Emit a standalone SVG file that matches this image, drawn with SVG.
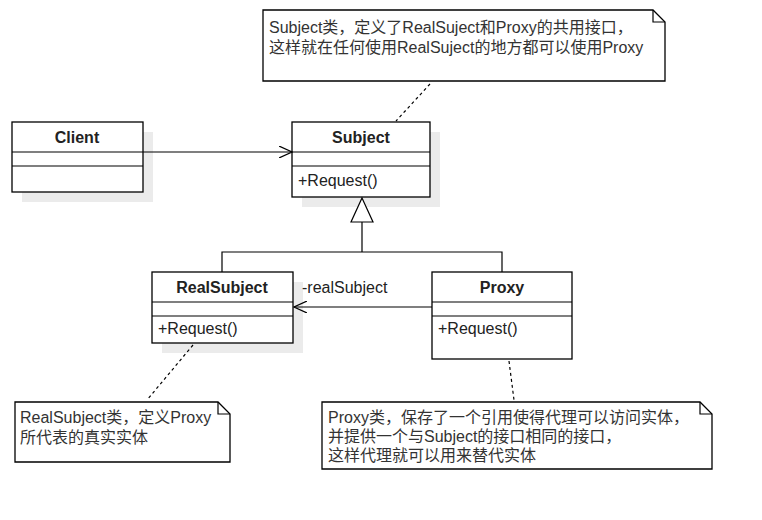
<svg xmlns="http://www.w3.org/2000/svg" width="762" height="520" viewBox="0 0 762 520">
<style>
.b{fill:#fff;stroke:#000;stroke-width:1.3}
.sh{fill:#ebebeb}
.t{font-family:"Liberation Sans","Noto Sans CJK SC",sans-serif;font-size:16px;fill:#222}
.h{font-weight:bold;text-anchor:middle;fill:#222}
.n{font-family:"Liberation Sans","Noto Sans CJK SC",sans-serif;font-size:16px;fill:#333}
.l{fill:none;stroke:#000;stroke-width:1.2}
.d{fill:none;stroke:#000;stroke-width:1.2;stroke-dasharray:3,3}
</style>
<defs><marker id="a" markerWidth="14" markerHeight="12" refX="13" refY="6" orient="auto" markerUnits="userSpaceOnUse"><path d="M0,0L13,6L0,12" fill="none" stroke="#000" stroke-width="1.2"/></marker></defs>
<rect x="0" y="0" width="762" height="520" fill="#fff"/>
<g id="note-subject"><path class="b" d="M263,10H653L665,22V81H263Z"/><path class="l" d="M653,10V22H665"/>
<text class="n" x="269" y="33">Subject类，定义了RealSuject和Proxy的共用接口，</text><text class="n" x="269" y="53">这样就在任何使用RealSuject的地方都可以使用Proxy</text></g>
<g id="client"><rect class="sh" x="22" y="132" width="131" height="70"/><rect class="b" x="12" y="122" width="131" height="70"/><path class="l" d="M12,152H143M12,166H143"/><text class="t h" x="77" y="143">Client</text></g>
<g id="subject"><rect class="sh" x="302" y="132" width="138" height="75"/><rect class="b" x="292" y="122" width="138" height="75"/><path class="l" d="M292,152H430M292,166H430"/><text class="t h" x="361" y="143">Subject</text><text class="t" x="298" y="186">+Request()</text></g>
<g id="realsubject"><rect class="sh" x="162" y="282" width="141" height="71"/><rect class="b" x="152" y="272" width="141" height="71"/><path class="l" d="M152,302H293M152,316H293"/><text class="t h" x="222" y="293">RealSubject</text><text class="t" x="158" y="334">+Request()</text></g>
<g id="proxy"><rect class="b" x="432" y="272" width="140" height="87"/><path class="l" d="M432,302H572M432,316H572"/><text class="t h" x="502" y="293">Proxy</text><text class="t" x="438" y="334">+Request()</text></g>
<g id="note-real"><path class="b" d="M15,402H218L230,414V462H15Z"/><path class="l" d="M218,402V414H230"/><text class="n" x="20" y="423">RealSubject类，定义Proxy</text><text class="n" x="20" y="443">所代表的真实实体</text></g>
<g id="note-proxy"><path class="b" d="M322,402H700L712,414V469H322Z"/><path class="l" d="M700,402V414H712"/><text class="n" x="328" y="423">Proxy类，保存了一个引用使得代理可以访问实体，</text><text class="n" x="328" y="442">并提供一个与Subject的接口相同的接口，</text><text class="n" x="328" y="461">这样代理就可以用来替代实体</text></g>
<g id="connectors">
<path class="l" d="M143,152H292" marker-end="url(#a)"/>
<path class="l" d="M222,272V252H502V272M362,252V222"/>
<path d="M362,198L373,222H351Z" fill="#fff" stroke="#000" stroke-width="1.2"/>
<path class="l" d="M432,307H294" marker-end="url(#a)"/>
<text class="t" x="302" y="293">-realSubject</text>
<path class="d" d="M430,84L396,121"/>
<path class="d" d="M193,345L147,400"/>
<path class="d" d="M509,361L514,400"/>
</g>
</svg>
